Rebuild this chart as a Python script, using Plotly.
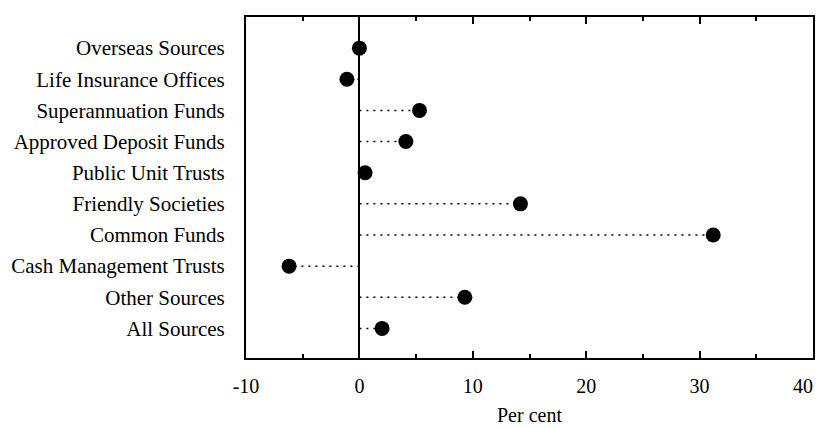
import plotly.graph_objects as go

categories = ["Overseas Sources", "Life Insurance Offices", "Superannuation Funds",
              "Approved Deposit Funds", "Public Unit Trusts", "Friendly Societies",
              "Common Funds", "Cash Management Trusts", "Other Sources", "All Sources"]
values = [0.0, -1.1, 5.3, 4.1, 0.5, 14.2, 31.2, -6.2, 9.3, 2.0]
x_ticks = [-10, 0, 10, 20, 30, 40]
x_tick_labels = ["-10", "0", "10", "20", "30", "40"]

pos = list(range(len(categories)))

lx, ly = [], []
for p, v in zip(pos, values):
    lx += [0, v, None]
    ly += [p, p, None]

# keep the right-most tick label inside the visible page edge
shown_labels = x_tick_labels[:-1] + [x_tick_labels[-1] + "\u00a0" * 4]

fig = go.Figure()
fig.add_trace(go.Scatter(x=lx, y=ly, mode="lines",
                         line=dict(color="black", width=1.5, dash="2px,5px"),
                         hoverinfo="skip", showlegend=False))
fig.add_trace(go.Scatter(x=values, y=pos, mode="markers",
                         marker=dict(color="black", size=15),
                         showlegend=False))

font_family = "Liberation Serif, Times New Roman, serif"
fig.update_layout(
    width=816, height=420,
    margin=dict(l=238, r=11, t=9, b=70),
    paper_bgcolor="white", plot_bgcolor="white",
    font=dict(family=font_family, color="black", size=20),
    xaxis=dict(range=[-10, 40], tickvals=x_ticks, ticktext=shown_labels,
               showgrid=False, zeroline=True, zerolinecolor="black", zerolinewidth=1.5,
               showline=True, linecolor="black", linewidth=2, mirror="ticks",
               ticks="inside", ticklen=7, tickwidth=1.5, tickcolor="black",
               minor=dict(ticks="inside", ticklen=4, tickcolor="black", dtick=5, tick0=-10),
               title=dict(text="Per cent", font=dict(size=20), standoff=12),
               tickfont=dict(size=20), ticklabelstandoff=9, automargin=False,
               ticklabeloverflow="allow"),
    yaxis=dict(range=[9.95, -1], tickvals=pos, ticktext=categories,
               showgrid=False, zeroline=False,
               showline=True, linecolor="black", linewidth=2, mirror=True,
               ticks="", tickfont=dict(size=21), ticklabelstandoff=15,
               automargin=False),
)

fig.write_html("out.html")
